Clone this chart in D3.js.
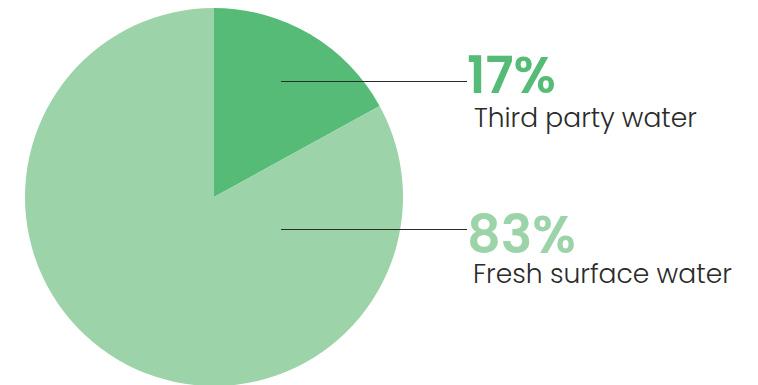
<!DOCTYPE html>
<html>
<head>
<meta charset="utf-8">
<script src="https://cdn.jsdelivr.net/npm/d3@7"></script>
<style>
  html, body { margin: 0; padding: 0; background: #fff; }
  svg { display: block; }
</style>
</head>
<body>
<svg id="chart" width="758" height="385"></svg>
<script>
// Water withdrawal by source
const categories = ["Third party water", "Fresh surface water"];
const values = [17, 83];
const colors = ["#55bb77", "#9dd3a8"];

const svg = d3.select("#chart");
const cx = 214, cy = 197, r = 189;

const pie = d3.pie().sort(null).value(d => d)(values);
const arc = d3.arc().innerRadius(0).outerRadius(r);

const g = svg.append("g").attr("transform", `translate(${cx},${cy})`);
g.selectAll("path")
  .data(pie)
  .join("path")
  .attr("d", arc)
  .attr("fill", (d, i) => colors[i]);

// Callout layout per slice
const callouts = [
  { lineY: 81, pctBase: 93, pctWidth: 89, labelBase: 127, labelX: 474, labelWidth: 223 },
  { lineY: 229, pctBase: 253, pctWidth: 109, labelBase: 283, labelX: 473, labelWidth: 259 }
];

function fitText(sel, width) {
  const fs = parseFloat(sel.attr("font-size"));
  const w = sel.node().getComputedTextLength();
  sel.attr("font-size", fs * width / w);
}

categories.forEach((c, i) => {
  const co = callouts[i];
  svg.append("line")
    .attr("x1", 281).attr("x2", 467)
    .attr("y1", co.lineY + 0.5).attr("y2", co.lineY + 0.5)
    .attr("stroke", "#2b2b2b").attr("stroke-width", 1);

  const pct = svg.append("text")
    .attr("x", 467).attr("y", co.pctBase)
    .attr("font-family", "Poppins, 'Open Sans', sans-serif")
    .attr("font-weight", 600)
    .attr("font-size", 44)
    .attr("fill", colors[i])
    .text(values[i] + "%");
  fitText(pct, co.pctWidth);

  const lab = svg.append("text")
    .attr("x", co.labelX).attr("y", co.labelBase)
    .attr("font-family", "Poppins, 'Open Sans', sans-serif")
    .attr("font-weight", 300)
    .attr("font-size", 24)
    .attr("fill", "#2b2b2b")
    .text(c);
  fitText(lab, co.labelWidth);
});
</script>
</body>
</html>
